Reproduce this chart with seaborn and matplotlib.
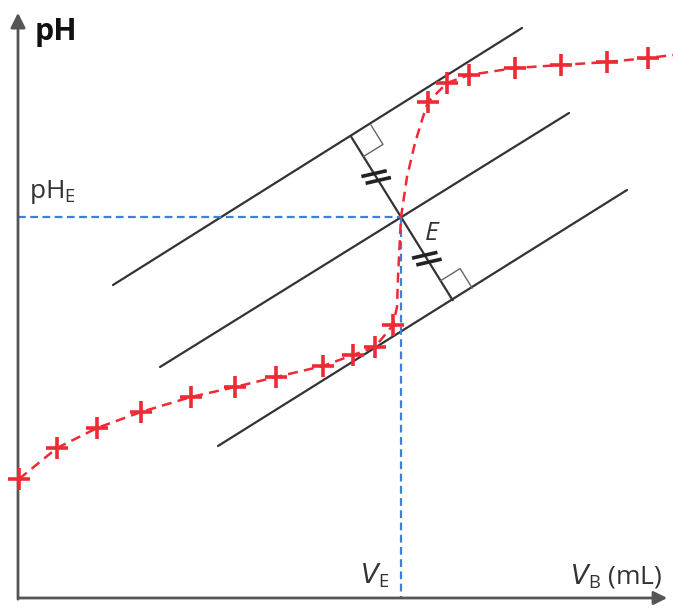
import numpy as np
import seaborn as sns
import matplotlib.pyplot as plt

# Titration data (arbitrary units: x = added volume, y = pH)
vb_points = [1, 39, 79, 123, 173, 217, 258, 305, 335, 357, 375, 410, 429, 451, 497, 543, 589, 630]
ph_points = [119, 150, 170, 186, 201, 211, 221, 232, 243, 251, 273, 496, 515, 523, 530, 533, 536, 540]

# smooth dashed curve through the points (extra points on the jump)
vb_curve = [1, 39, 79, 123, 173, 217, 258, 305, 335, 357, 375, 379, 380, 383, 389, 397, 404,
            410, 429, 451, 497, 543, 589, 630, 655]
ph_curve = [119, 150, 170, 186, 201, 211, 221, 232, 243, 251, 273, 291, 321, 381, 421, 455, 478,
            496, 515, 523, 530, 533, 536, 540, 543]

# three parallel tangents (end points)
top_line_x, top_line_y = [95, 504], [313, 570]
mid_line_x, mid_line_y = [142, 551], [231, 485]
bot_line_x, bot_line_y = [200, 609], [152, 408]

# equivalence point
vb_e, ph_e = 383, 381

red = "#ee2a35"
blue = "#3d7fd9"
dark = "#333333"
axis_col = "#555555"

sns.set_theme(style="white")
plt.rcParams["font.family"] = ["Open Sans", "DejaVu Sans"]

fig = plt.figure(figsize=(6.73, 6.08), dpi=100)
ax = fig.add_axes([0, 0, 1, 1])
ax.set_xlim(-18, 655)
ax.set_ylim(-10, 598)
ax.axis("off")

# axes with arrows
ax.annotate("", xy=(0, 588), xytext=(0, -4),
            arrowprops=dict(arrowstyle="-|>", mutation_scale=22, lw=2, color=axis_col))
ax.annotate("", xy=(652, 0), xytext=(-2, 0),
            arrowprops=dict(arrowstyle="-|>", mutation_scale=20, lw=2, color=axis_col))

# parallel lines
for lx, ly in [(top_line_x, top_line_y), (mid_line_x, mid_line_y), (bot_line_x, bot_line_y)]:
    sns.lineplot(x=lx, y=ly, ax=ax, color=dark, lw=1.6, sort=False, estimator=None)

# perpendicular through E
u = np.array([mid_line_x[1] - mid_line_x[0], mid_line_y[1] - mid_line_y[0]], float)
u /= np.linalg.norm(u)
e = np.array([vb_e, ph_e], float)


def foot(lx, ly):
    p0 = np.array([lx[0], ly[0]], float)
    return p0 + np.dot(e - p0, u) * u


f_top = foot(top_line_x, top_line_y)
f_bot = foot(bot_line_x, bot_line_y)
ax.plot([f_top[0], f_bot[0]], [f_top[1], f_bot[1]], color=dark, lw=1.6)

n = (e - f_top) / np.linalg.norm(e - f_top)  # from top foot towards E
s = 23
for f, d in [(f_top, n), (f_bot, -n)]:
    sq = np.array([f + s * u, f + s * u + s * d, f + s * d])
    ax.plot(sq[:, 0], sq[:, 1], color="#666666", lw=1.0)

# equal-length marks
ang = np.deg2rad(13)
t = np.array([np.cos(ang), np.sin(ang)])
for mid in [(f_top + e) / 2, (f_bot + e) / 2]:
    for off in (-4, 4):
        c = mid + off * n
        p1, p2 = c - 13 * t, c + 13 * t
        ax.plot([p1[0], p2[0]], [p1[1], p2[1]], color="#222222", lw=2.6, solid_capstyle="butt")

# blue projections
ax.plot([0, vb_e], [ph_e, ph_e], color=blue, lw=1.6, linestyle=(0, (3.5, 2)))
ax.plot([vb_e, vb_e], [ph_e, 0], color=blue, lw=1.6, linestyle=(0, (3.5, 2)))

# titration curve
sns.lineplot(x=vb_curve, y=ph_curve, ax=ax, color=red, lw=1.8, sort=False,
             estimator=None, linestyle=(0, (4, 2.5)))
sns.scatterplot(x=vb_points, y=ph_points, ax=ax, marker="+", s=230, color=red,
                linewidth=2.6, zorder=5)

# labels
ax.text(17, 558, "pH", fontsize=22, fontweight="bold", color="#111111")
ax.text(11, 400, r"pH$_\mathregular{E}$", fontsize=19, color=dark)
ax.text(407, 358, "E", fontsize=19, style="italic", color=dark)
ax.text(342, 15, r"$V_\mathregular{E}$", fontsize=19, color=dark)
ax.text(552, 15, r"$V_\mathregular{B}$ (mL)", fontsize=19, color=dark)

plt.savefig("out.png", dpi=100)
